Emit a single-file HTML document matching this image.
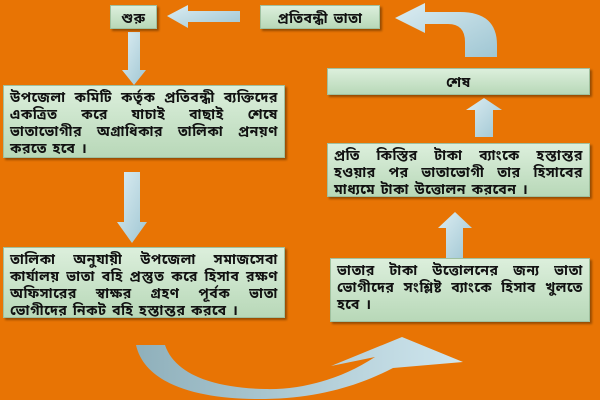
<!DOCTYPE html>
<html><head><meta charset="utf-8"><style>
body{margin:0;width:600px;height:400px;background:#e87404;position:relative;overflow:hidden;font-family:"Liberation Sans","Noto Sans Bengali","Lohit Bengali",sans-serif;}
.b{position:absolute;background:linear-gradient(#dcefdc,#b8d8b8);border:1px solid #9fc09f;box-shadow:2px 2px 2px rgba(0,0,0,.35);box-sizing:border-box;font-size:14px;letter-spacing:0.6px;word-spacing:1px;font-weight:bold;color:#111;line-height:17px;text-align:justify;padding:3px 6px;}
.c{text-align:center;}
svg{position:absolute;left:0;top:0}
</style></head><body>
<svg width="600" height="400">
<defs>
<linearGradient id="g" x1="0" y1="0" x2="1" y2="1"><stop offset="0" stop-color="#dcedf2"/><stop offset="1" stop-color="#9fc6d3"/></linearGradient>
<linearGradient id="h" x1="0" y1="0" x2="1" y2="0"><stop offset="0" stop-color="#8fb0bb"/><stop offset="1" stop-color="#cfe6ee"/></linearGradient>
</defs>
<g fill="url(#g)">
<polygon points="167,16 188,5 188,11 240,11 240,22 188,22 188,28"/>
<polygon points="128,32 140,32 140,70 146,70 134,85 122,70 128,70"/>
<polygon points="124,172 140,172 140,222 147,222 132,243 117,222 124,222"/>
<polygon points="475,137 493,137 493,110 502,110 484,98 466,110 475,110"/>
<polygon points="446,258 463,258 463,228 472,228 455,212 438,228 446,228"/>
<path d="M395,18 L425,3 L425,12 L460,12 Q497,12 497,45 L497,57 L465,57 L465,42 Q465,24 448,24 L425,24 L425,33 Z"/>
</g>
<path fill="url(#h)" d="M136,345 C145,385 200,400 265,399 C320,398 360,385 393,368 L463,362 L402,337 L331,366 L375,357 C340,380 300,390 265,389 C215,388 175,375 165,345 Z"/>
</svg>
<div class="b c" style="left:110px;top:5px;width:47px;height:24px;line-height:18px">শুরু</div>
<div class="b c" style="left:260px;top:5px;width:120px;height:24px;line-height:18px">প্রতিবন্ধী ভাতা</div>
<div class="b c" style="left:327px;top:68px;width:263px;height:27px;line-height:20px">শেষ</div>
<div class="b" style="left:3px;top:85px;width:282px;height:73px">উপজেলা কমিটি কর্তৃক প্রতিবন্ধী ব্যক্তিদের একত্রিত করে যাচাই বাছাই শেষে ভাতাভোগীর অগ্রাধিকার তালিকা প্রনয়ণ করতে হবে ।</div>
<div class="b" style="left:3px;top:247px;width:282px;height:71px">তালিকা অনুযায়ী উপজেলা সমাজসেবা কার্যালয় ভাতা বহি প্রস্তুত করে হিসাব রক্ষণ অফিসারের স্বাক্ষর গ্রহণ পূর্বক ভাতা ভোগীদের নিকট বহি হস্তান্তর করবে ।</div>
<div class="b" style="left:327px;top:143px;width:263px;height:54px">প্রতি কিস্তির টাকা ব্যাংকে হস্তান্তর হওয়ার পর ভাতাভোগী তার হিসাবের মাধ্যমে টাকা উত্তোলন করবেন ।</div>
<div class="b" style="left:330px;top:258px;width:260px;height:64px">ভাতার টাকা উত্তোলনের জন্য ভাতা ভোগীদের সংশ্লিষ্ট ব্যাংকে হিসাব খুলতে হবে ।</div>
</body></html>
